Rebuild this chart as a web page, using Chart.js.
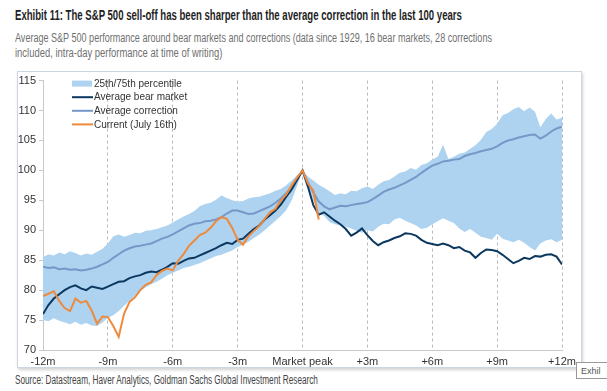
<!DOCTYPE html>
<html>
<head>
<meta charset="utf-8">
<script src="https://cdn.jsdelivr.net/npm/chart.js@4.4.0/dist/chart.umd.min.js"></script>
<style>
  body { margin: 0; background: #fff; width: 607px; height: 391px; overflow: hidden; position: relative; }
  .txt { position: absolute; left: 15px; white-space: nowrap; transform-origin: 0 0; font-family: "Liberation Sans", Arial, sans-serif; }
  .title { top: 7px; font-weight: bold; font-size: 14.5px; color: #1e1e1e; }
  .sub { font-size: 12.5px; color: #707070; }
  .frame { position: absolute; left: 17px; top: 71px; width: 563px; height: 295px; border: 1px solid #cdd5e2; box-shadow: 1px 2px 3px rgba(0,0,0,0.18); }
  canvas { position: absolute; left: 17px; top: 71px; }
  .src { top: 373px; font-size: 12px; color: #444; }
  .tip { position: absolute; left: 576px; top: 362px; width: 40px; height: 17px; border: 1px solid #999; background: #fff; font: 9px "Liberation Sans", sans-serif; color: #555; padding: 3px 0 0 4px; box-sizing: border-box; }
</style>
</head>
<body>
<div class="txt title" data-w="447">Exhibit 11: The S&amp;P 500 sell-off has been sharper than the average correction in the last 100 years</div>
<div class="txt sub" style="top:31px" data-w="477">Average S&amp;P 500 performance around bear markets and corrections (data since 1929, 16 bear markets, 28 corrections</div>
<div class="txt sub" style="top:46px" data-w="207">included, intra-day performance at time of writing)</div>
<div class="frame"></div>
<canvas id="chart" width="565" height="296"></canvas>
<div class="txt src" data-w="303">Source: Datastream, Haver Analytics, Goldman Sachs Global Investment Research</div>
<div class="tip">Exhil</div>
<script>
// squeeze the condensed house font look
document.querySelectorAll('.txt').forEach(function(el) {
  var w = +el.getAttribute('data-w');
  el.style.transform = 'scaleX(' + (w / el.offsetWidth) + ')';
});

// months relative to market peak, quarter-month steps from -12 to +12
var months = [];
for (var i = 0; i <= 96; i++) months.push(-12 + i * 0.25);

var tickLabels = ['-12m', '-9m', '-6m', '-3m', 'Market peak', '+3m', '+6m', '+9m', '+12m'];

var bandUpper = [
  85.5, 86.0, 85.8, 86.3, 86.0, 86.5, 86.2, 85.8, 86.1, 85.9, 86.4, 86.9,
  87.8, 89.0, 89.3, 88.9, 89.2, 89.6, 89.5, 89.9, 90.0, 90.2, 90.5, 90.8,
  91.3, 91.8, 92.3, 92.7, 93.2, 94.0, 94.4, 94.6, 95.1, 95.8, 95.4, 95.0,
  94.8, 94.9, 95.3, 95.5, 95.6, 95.9, 96.2, 96.6, 96.9, 97.5, 98.3, 99.2,
  100.0,
  99.0, 98.3, 97.6, 97.1, 96.5, 95.9, 96.2, 96.0, 96.6, 96.5, 97.0, 97.3,
  96.9, 97.6, 98.2, 98.4, 99.0, 99.6, 99.8, 100.4, 100.1, 100.9, 101.2, 101.8,
  102.3, 104.3, 101.9, 102.3, 102.8, 103.0, 103.6, 104.2, 105.1, 106.4, 106.9, 107.8,
  109.2, 109.6, 110.2, 110.6, 109.9, 110.5, 109.8, 107.2, 108.6, 109.5, 108.5, 108.8
];

var bandLower = [
  75.0, 74.8, 75.3, 74.9, 74.6, 74.3, 74.7, 74.2, 74.5, 74.1, 74.0, 74.6,
  75.4, 75.8, 76.5, 77.4, 78.2, 79.1, 79.9, 80.5, 81.0, 81.4, 81.9, 82.5,
  82.9, 83.3, 83.7, 83.9, 84.2, 84.5, 84.9, 85.3, 85.7, 85.9, 86.3, 86.6,
  87.2, 87.6, 88.1, 88.7, 89.3, 90.0, 90.8, 91.6, 92.4, 93.4, 95.0, 97.4,
  100.0,
  97.5, 95.0, 93.0, 92.4, 91.4, 91.0, 90.8, 90.6, 90.3, 89.9, 89.6, 90.0,
  89.8, 90.6, 91.1, 91.0, 91.8, 92.1, 91.6, 91.2, 90.8, 90.2, 90.4, 91.0,
  91.5, 92.0, 91.6, 91.2, 90.3, 89.7, 90.2, 89.6, 88.9, 88.7, 88.4, 89.4,
  88.6, 88.3, 88.0, 88.4, 87.9, 87.2, 86.6, 87.8, 88.3, 88.5, 88.0, 88.4
];

var bearMarket = [
  76.0, 77.5, 78.6, 79.3, 80.0, 80.5, 80.8, 80.3, 80.0, 80.6, 80.4, 80.2,
  80.6, 81.0, 81.4, 81.5, 82.0, 82.3, 82.5, 82.9, 83.1, 83.0, 83.4, 83.9,
  84.5, 84.4, 84.9, 85.3, 85.4, 85.8, 86.2, 86.6, 87.0, 87.5, 87.9, 87.7,
  88.4, 88.6, 89.4, 90.2, 90.8, 91.8, 92.5, 93.3, 94.3, 95.6, 96.8, 98.4,
  100.0,
  97.3, 94.2, 92.6, 93.0, 92.3, 91.6, 91.0, 90.2, 89.1, 89.6, 90.3, 89.2,
  88.2, 87.5, 88.0, 88.3, 88.7, 89.0, 89.5, 89.4, 89.1, 88.4, 87.9, 87.7,
  87.5, 87.8, 87.5, 87.0, 87.2, 86.6, 86.3, 85.4, 86.2, 86.8, 86.7, 86.5,
  85.9, 85.2, 84.5, 84.9, 85.4, 85.2, 85.7, 85.6, 85.9, 86.0, 85.6, 84.3
];

var avgCorrection = [
  83.9, 83.7, 83.8, 83.5, 83.6, 83.4, 83.5, 83.3, 83.4, 83.6, 83.9, 84.3,
  84.7, 85.4, 86.0, 86.6, 87.0, 87.3, 87.4, 87.6, 87.8, 88.2, 88.6, 88.9,
  89.3, 89.8, 90.3, 90.8, 91.1, 91.2, 91.5, 91.6, 91.8, 92.2, 92.8, 93.3,
  93.3, 93.0, 92.7, 92.8, 93.2, 93.6, 94.0, 94.6, 95.3, 96.2, 97.2, 98.5,
  100.0,
  98.0, 96.3, 94.8, 94.0, 93.5, 93.8, 94.1, 94.0, 94.2, 94.4, 94.5, 94.7,
  95.2, 95.8, 96.4, 96.8, 97.1, 97.5, 97.9, 98.4, 98.9, 99.6, 100.2, 100.8,
  101.1, 101.5, 101.6, 101.8, 101.9, 102.4, 102.7, 102.9, 103.2, 103.4, 103.6, 104.0,
  104.6, 105.0, 105.2, 105.5, 105.7, 105.9, 106.0, 105.3, 105.8, 106.5, 107.0, 107.3
];

// current episode (July 16th) only runs to just after the peak
var current = [
  79.0, 79.4, 79.8, 78.2, 77.0, 76.5, 78.6, 77.9, 78.2, 76.6, 74.4, 75.6,
  75.5, 74.0, 72.2, 76.1, 78.0, 78.8, 80.0, 80.9, 81.3, 82.5, 83.2, 83.6,
  83.3, 84.9, 86.0, 87.4, 88.3, 89.2, 89.6, 90.4, 91.5, 92.2, 91.9, 90.4,
  88.4, 87.6, 89.0, 89.9, 90.7, 91.9, 93.0, 93.6, 95.0, 96.0, 97.5, 98.8,
  100.0,
  97.8, 96.6, 91.8
];

function pts(arr) {
  return arr.map(function(v, i) { return { x: months[i], y: v }; });
}

var colors = {
  band: '#add3f0',
  bear: '#0c3860',
  correction: '#7598c8',
  current: '#ee8a3c'
};

var legendItems = [
  { label: '25th/75th percentile', color: colors.band, box: true },
  { label: 'Average bear market', color: colors.bear },
  { label: 'Average correction', color: colors.correction },
  { label: 'Current (July 16th)', color: colors.current }
];

// legend drawn inside the plot, top-left
var insideLegend = {
  id: 'insideLegend',
  afterDraw: function(chart) {
    var ctx = chart.ctx;
    var x0 = chart.chartArea.left + 29;
    var y0 = chart.chartArea.top + 3;
    ctx.save();
    ctx.font = '10px "Liberation Sans", Arial, sans-serif';
    ctx.textBaseline = 'middle';
    legendItems.forEach(function(it, i) {
      var y = y0 + i * 13.6;
      if (it.box) {
        ctx.fillStyle = it.color;
        ctx.fillRect(x0, y - 3, 20, 6);
      } else {
        ctx.strokeStyle = it.color;
        ctx.lineWidth = 2;
        ctx.beginPath();
        ctx.moveTo(x0, y);
        ctx.lineTo(x0 + 21, y);
        ctx.stroke();
      }
      ctx.fillStyle = '#333';
      ctx.fillText(it.label, x0 + 22, y + 0.5);
    });
    ctx.restore();
  }
};

var config = {
  type: 'line',
  data: {
    datasets: [
      {
        label: 'Current (July 16th)',
        data: pts(current),
        borderColor: colors.current,
        borderWidth: 2,
        pointRadius: 0,
        fill: false,
        order: 1
      },
      {
        label: 'Average bear market',
        data: pts(bearMarket),
        borderColor: colors.bear,
        borderWidth: 2,
        pointRadius: 0,
        fill: false,
        order: 2
      },
      {
        label: 'Average correction',
        data: pts(avgCorrection),
        borderColor: colors.correction,
        borderWidth: 2,
        pointRadius: 0,
        fill: false,
        order: 3
      },
      {
        label: '25th/75th percentile',
        data: pts(bandUpper),
        borderWidth: 0,
        borderColor: 'rgba(0,0,0,0)',
        backgroundColor: colors.band,
        pointRadius: 0,
        fill: '+1',
        order: 10
      },
      {
        label: 'lower',
        data: pts(bandLower),
        borderWidth: 0,
        borderColor: 'rgba(0,0,0,0)',
        pointRadius: 0,
        fill: false,
        order: 11
      }
    ]
  },
  options: {
    responsive: false,
    animation: false,
    layout: { padding: { top: 6, right: 20, left: 0, bottom: 0 } },
    plugins: {
      legend: { display: false },
      tooltip: { enabled: false }
    },
    scales: {
      x: {
        type: 'linear',
        min: -12,
        max: 12,
        afterFit: function(s) { s.height = 17; },
        ticks: {
          stepSize: 3,
          padding: 5,
          maxRotation: 0,
          autoSkip: false,
          color: '#333',
          font: { family: '"Liberation Sans", Arial, sans-serif', size: 11 },
          callback: function(v) { return tickLabels[Math.round((v + 12) / 3)]; }
        },
        grid: {
          color: '#b8b8b8',
          drawTicks: false,
          lineWidth: 1
        },
        border: { color: '#c8c8c8', dash: [3, 3] }
      },
      y: {
        min: 70,
        max: 115,
        afterFit: function(s) { s.width = 26; },
        ticks: {
          stepSize: 5,
          padding: 3,
          color: '#333',
          font: { family: '"Liberation Sans", Arial, sans-serif', size: 11 }
        },
        grid: {
          drawOnChartArea: false,
          drawTicks: true,
          tickLength: 4,
          color: '#c8c8c8'
        },
        border: { color: '#c8c8c8' }
      }
    }
  },
  plugins: [insideLegend]
};

window.chart = new Chart(document.getElementById('chart').getContext('2d'), config);
</script>
</body>
</html>
